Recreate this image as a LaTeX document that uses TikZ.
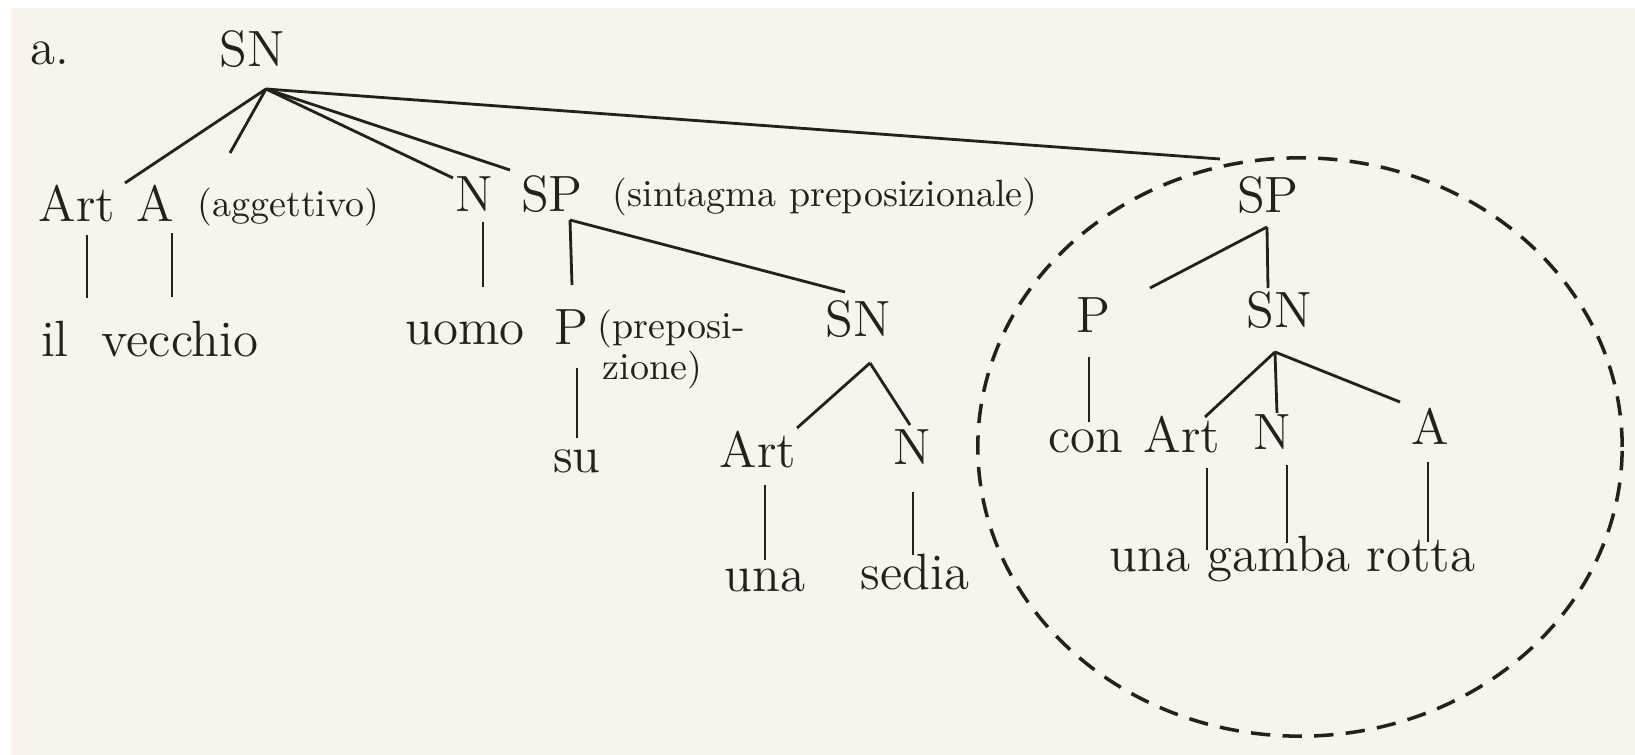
\documentclass[tikz,border=0pt]{standalone}
\usepackage{tikz}
\usepackage{xcolor}
\usetikzlibrary{positioning,calc}
\definecolor{paper}{RGB}{248, 244, 236}
\definecolor{ink}{RGB}{36, 32, 28}
\tikzstyle{cat} = [
    anchor=base,
    inner sep=0pt,
    text=ink,
    font=\fontsize{14.5}{17}\selectfont
]
\tikzstyle{word} = [cat]
\tikzstyle{gloss} = [
    anchor=base west,
    inner sep=0pt,
    text=ink,
    font=\fontsize{10.8}{12}\selectfont
]
\tikzstyle{branch} = [
    line width=0.8pt,
    draw=ink
]
\tikzstyle{ring} = [
    line width=1pt,
    draw=ink,
    dash pattern=on 5.5pt off 3.5pt
]
\begin{document}
\begin{tikzpicture}[x=0.01cm, y=-0.01cm]
    % scanned page
    \fill[white] (0,0) rectangle (1635,755);
    \fill[paper] (11,8) rectangle (1635,755);
    \useasboundingbox (0,0) rectangle (1635,755);

    \node[cat] (label) at (50,65) {a.};
    \node[cat] (root) at (252,67) {SN};

    % left part
    \node[cat] (Art1) at (77,222) {Art};
    \node[cat] (A1) at (155,222) {A};
    \node[gloss] (agg) at (197,217) {(aggettivo)};
    \node[cat] (N1) at (474,212) {N};
    \node[cat] (SP1) at (552,212) {SP};
    \node[gloss] (sint) at (612,207) {(sintagma preposizionale)};
    \node[word] (il) at (55,357) {il};
    \node[word] (vecchio) at (180,357) {vecchio};
    \node[word] (uomo) at (465,345) {uomo};
    \node[cat] (P1) at (571,345) {P};
    \node[gloss] (prep) at (597,339) {(preposi-};
    \node[gloss] (zione) at (602,380) {zione)};
    \node[cat] (SN2) at (858,337) {SN};
    \node[word] (su) at (577,473) {su};
    \node[cat] (Art2) at (758,468) {Art};
    \node[cat] (N2) at (912,465) {N};
    \node[word] (una1) at (765,592) {una};
    \node[word] (sedia) at (915,590) {sedia};

    % circled part
    \node[cat] (SP3) at (1268,213) {SP};
    \node[cat] (P3) at (1093,333) {P};
    \node[cat] (SN3) at (1279,328) {SN};
    \node[word] (con) at (1086,453) {con};
    \node[cat] (Art3) at (1182,453) {Art};
    \node[cat] (N3) at (1272,450) {N};
    \node[cat] (A3) at (1430,445) {A};
    \node[word] (una2) at (1150,572) {una};
    \node[word] (gamba) at (1279,572) {gamba};
    \node[word] (rotta) at (1421,572) {rotta};

    % where the branches meet
    \coordinate (rootfoot) at ($(root.base)+(14,22)$);
    \coordinate (SP1foot) at ($(SP1.base)+(18,8)$);
    \coordinate (SN2foot) at ($(SN2.base)+(12,26)$);
    \coordinate (SP3foot) at ($(SP3.base)+(-1,14)$);
    \coordinate (SN3foot) at ($(SN3.base)+(-4,24)$);

    \draw[branch] (rootfoot) -- ($(Art1.base)+(48,-39)$);
    \draw[branch] (rootfoot) -- ($(A1.base)+(75,-69)$);
    \draw[branch] (rootfoot) -- ($(N1.base)+(-21,-34)$);
    \draw[branch] (rootfoot) -- ($(SP1.base)+(-42,-42)$);
    \draw[branch] (rootfoot) -- ($(SP3.base)+(-48,-54)$);
    \draw[branch] ($(Art1.base)+(10,13)$) -- ($(il.base)+(32,-59)$);
    \draw[branch] ($(A1.base)+(17,11)$) -- ($(vecchio.base)+(-8,-60)$);
    \draw[branch] ($(N1.base)+(9,10)$) -- ($(uomo.base)+(18,-58)$);
    \draw[branch] (SP1foot) -- ($(P1.base)+(1,-60)$);
    \draw[branch] (SP1foot) -- ($(SN2.base)+(-13,-45)$);
    \draw[branch] ($(P1.base)+(6,23)$) -- ($(su.base)+(0,-35)$);
    \draw[branch] (SN2foot) -- ($(Art2.base)+(39,-40)$);
    \draw[branch] (SN2foot) -- ($(N2.base)+(-2,-40)$);
    \draw[branch] ($(Art2.base)+(7,17)$) -- ($(una1.base)+(0,-32)$);
    \draw[branch] ($(N2.base)+(1,27)$) -- ($(sedia.base)+(-2,-35)$);
    \draw[branch] (SP3foot) -- ($(P3.base)+(57,-45)$);
    \draw[branch] (SP3foot) -- ($(SN3.base)+(-11,-40)$);
    \draw[branch] ($(P3.base)+(-4,24)$) -- ($(con.base)+(3,-31)$);
    \draw[branch] (SN3foot) -- ($(Art3.base)+(23,-36)$);
    \draw[branch] (SN3foot) -- ($(N3.base)+(5,-37)$);
    \draw[branch] (SN3foot) -- ($(A3.base)+(-30,-43)$);
    \draw[branch] ($(Art3.base)+(25,15)$) -- ($(una2.base)+(57,-22)$);
    \draw[branch] ($(N3.base)+(15,15)$) -- ($(gamba.base)+(8,-29)$);
    \draw[branch] ($(A3.base)+(-2,17)$) -- ($(rotta.base)+(7,-30)$);

    % dashed ring round the second SP
    \draw[ring] (1300,447) ellipse [x radius=3.22cm, y radius=2.89cm];
\end{tikzpicture}
\end{document}
